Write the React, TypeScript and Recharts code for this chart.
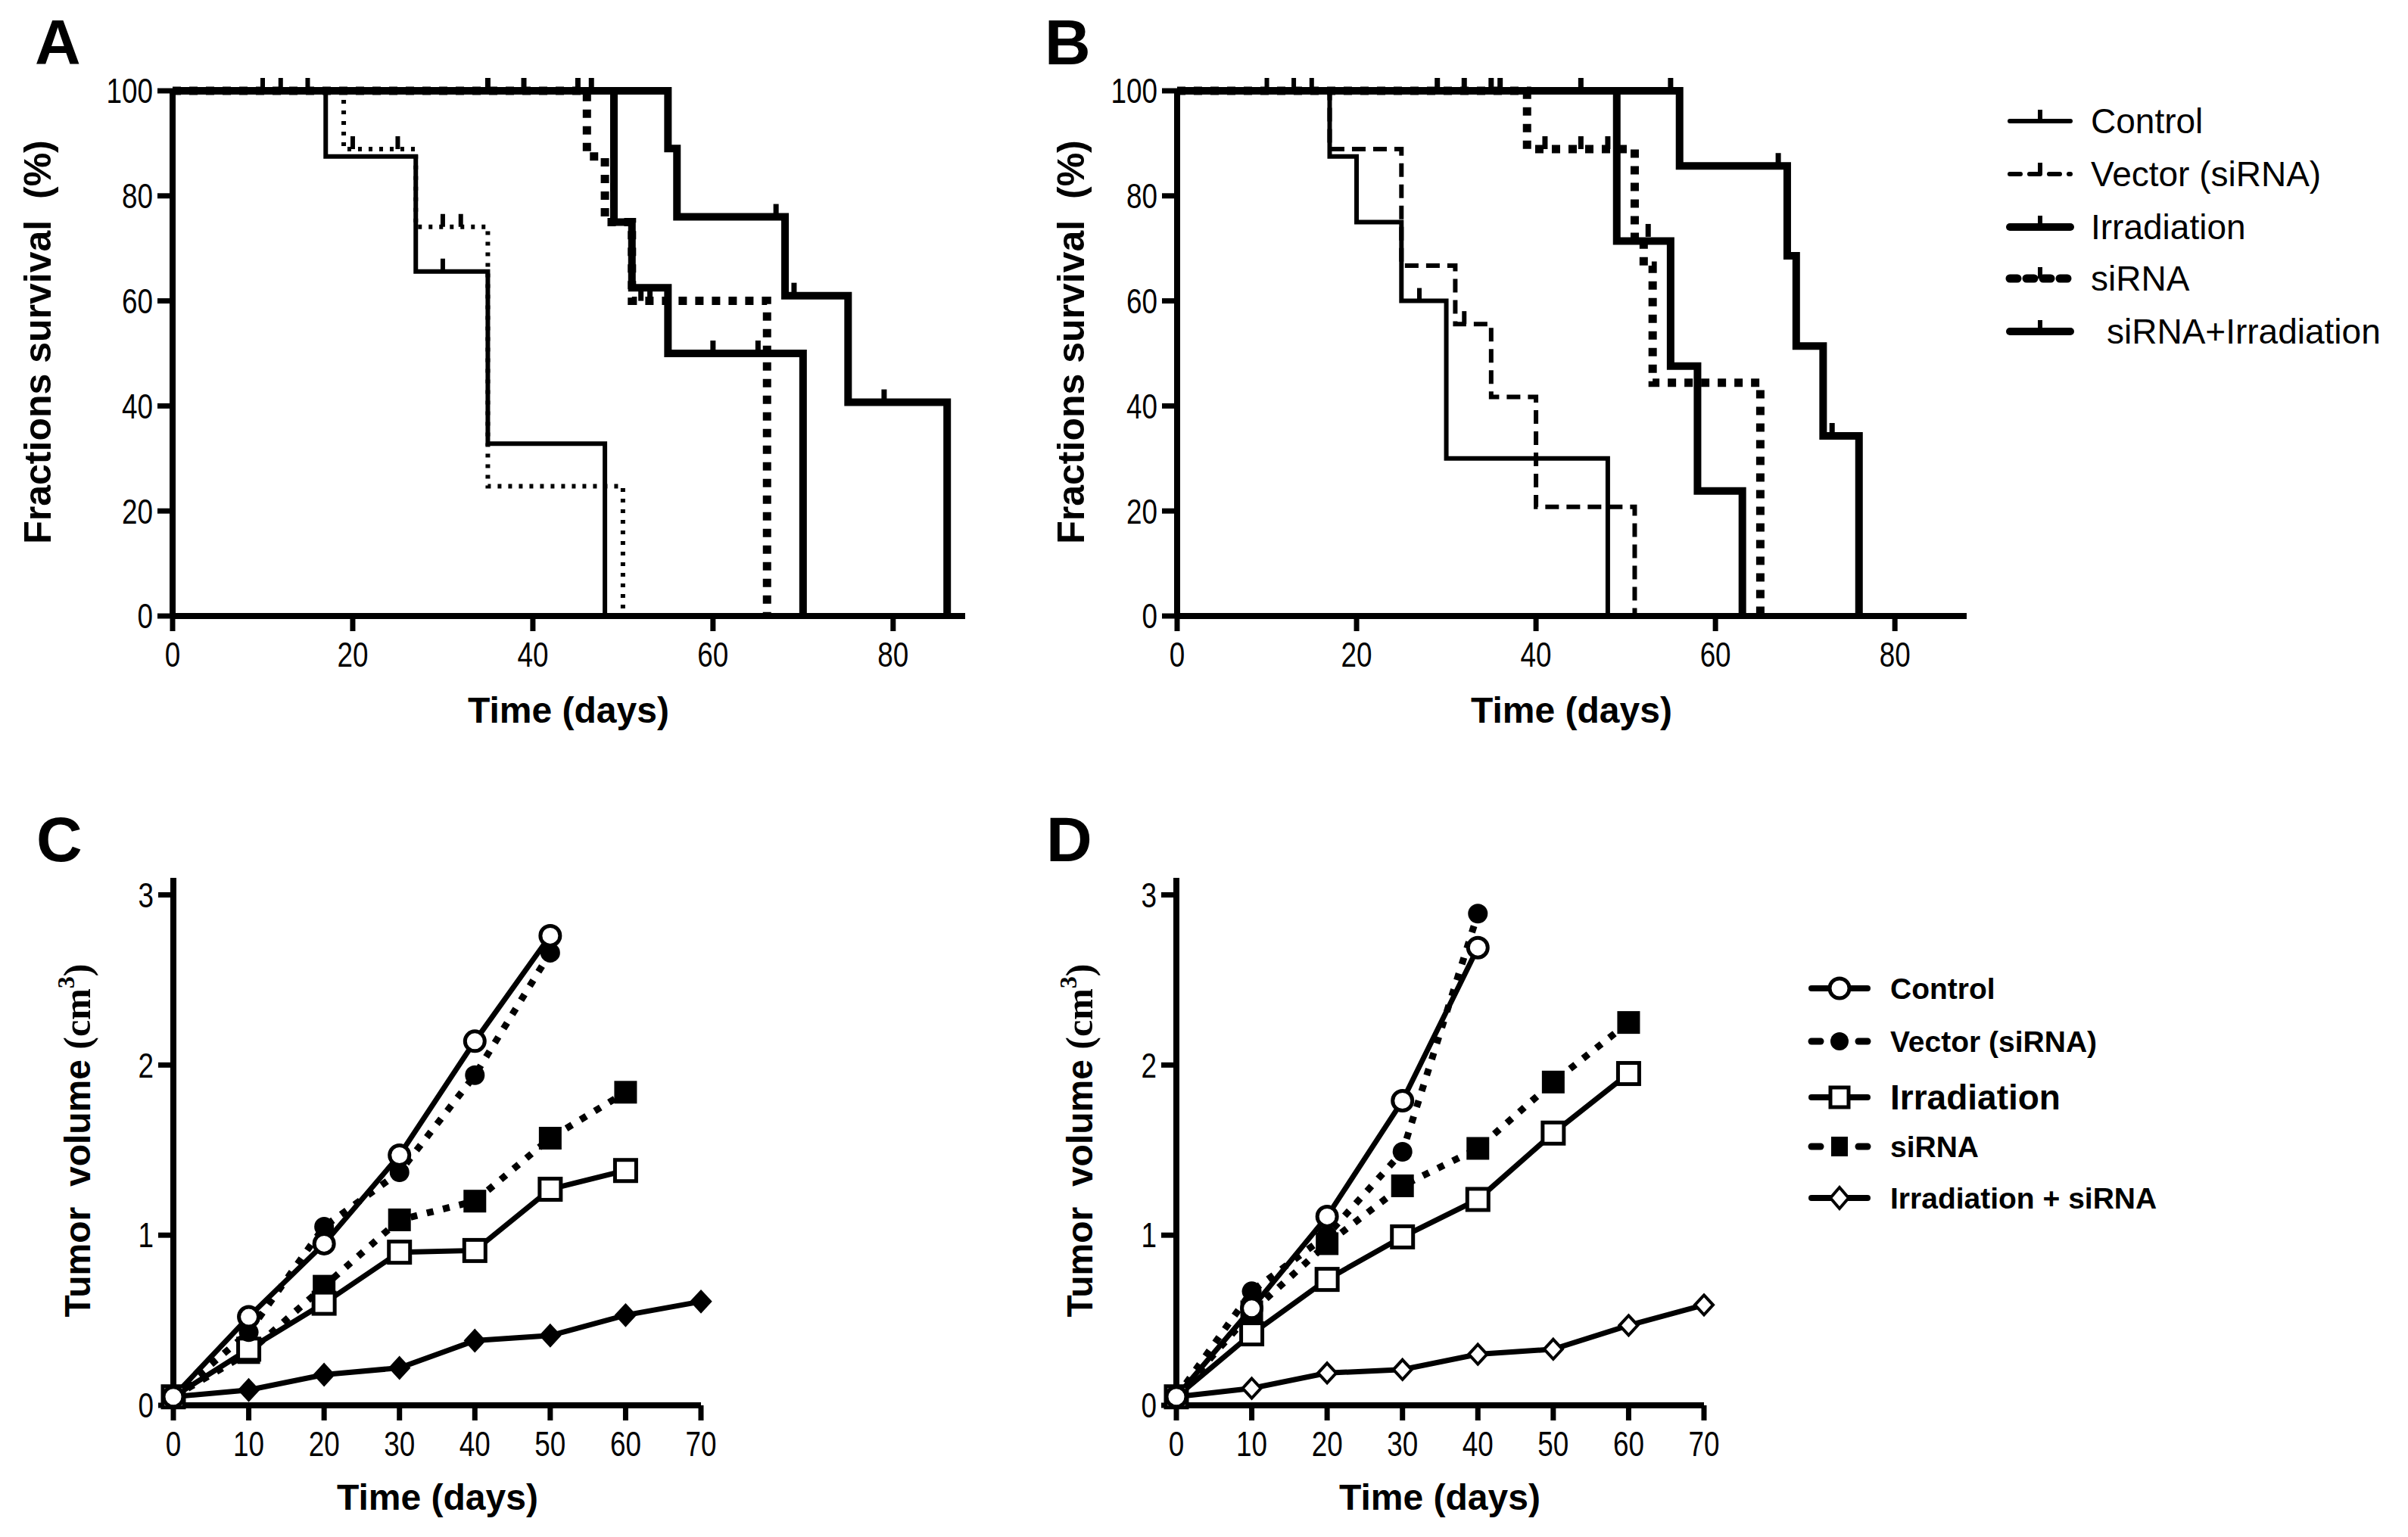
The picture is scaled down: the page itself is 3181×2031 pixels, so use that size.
import React from "react";
import { ComposedChart, LineChart, Line, Scatter, XAxis, YAxis } from "recharts";

type Pair = [number, number];

const SANS = "'Liberation Sans', Arial, sans-serif";
const SERIF = "'Liberation Serif', 'Times New Roman', serif";

// ---- survival (A, B) ----
const survivalXTicks = [0, 20, 40, 60, 80];
const survivalYTicks = [0, 20, 40, 60, 80, 100];
const survivalNames = ["Control", "Vector (siRNA)", "Irradiation", "siRNA", "siRNA+Irradiation"];

// step points [day, % surviving]
const aControl: Pair[] = [[0, 100], [17, 87.5], [27, 65.6], [35, 32.8], [48, 0]];
const aVector: Pair[] = [[0, 100], [19, 88.9], [27, 74.1], [35, 24.7], [50, 0]];
const aIrradiation: Pair[] = [[0, 100], [49, 75], [51, 62.5], [55, 50], [70, 0]];
const aSirna: Pair[] = [[0, 100], [46, 87.5], [48, 75], [51, 60], [66, 0]];
const aCombo: Pair[] = [[0, 100], [55, 89], [56, 76], [68, 61], [75, 40.7], [86, 0]];

// censored observations
const aControlCens: Pair[] = [[10, 100], [12, 100], [15, 100], [30, 65.6]];
const aVectorCens: Pair[] = [[20, 88.9], [25, 88.9], [30, 74.1], [32, 74.1]];
const aIrradiationCens: Pair[] = [[35, 100], [39, 100], [60, 50], [65, 50]];
const aSirnaCens: Pair[] = [[45, 100], [46.5, 100], [52, 60], [53, 60]];
const aComboCens: Pair[] = [[67, 76], [69, 61], [79, 40.7]];

const bControl: Pair[] = [[0, 100], [17, 87.5], [20, 75], [25, 60], [30, 30], [48, 0]];
const bVector: Pair[] = [[0, 100], [17, 88.9], [25, 66.7], [31, 55.6], [35, 41.7], [40, 20.8], [51, 0]];
const bIrradiation: Pair[] = [[0, 100], [49, 71.4], [55, 47.6], [58, 23.8], [63, 0]];
const bSirna: Pair[] = [[0, 100], [39, 88.9], [51, 72.2], [52, 66.7], [53, 44.4], [65, 0]];
const bCombo: Pair[] = [[0, 100], [56, 85.7], [68, 68.6], [69, 51.4], [72, 34.3], [76, 0]];

const bControlCens: Pair[] = [[10, 100], [13, 100], [15, 100], [27, 60]];
const bVectorCens: Pair[] = [[32, 55.6]];
const bIrradiationCens: Pair[] = [[29, 100], [32, 100], [35, 100], [36, 100], [45, 100]];
const bSirnaCens: Pair[] = [[41, 88.9], [45, 88.9], [48, 88.9], [52.5, 72.2]];
const bComboCens: Pair[] = [[55, 100], [67, 85.7], [73, 34.3]];

// ---- tumour volume (C, D) ----
const volumeDays = [0, 10, 20, 30, 40, 50, 60, 70];
const volumeYTicks = [0, 1, 2, 3];
const volumeNames = ["Control", "Vector (siRNA)", "Irradiation", "siRNA", "Irradiation + siRNA"];

const cControl = [0.05, 0.52, 0.95, 1.47, 2.14, 2.76];
const cVector = [0.05, 0.43, 1.05, 1.37, 1.94, 2.66];
const cIrradiation = [0.05, 0.33, 0.6, 0.9, 0.91, 1.27, 1.38];
const cSirna = [0.05, 0.31, 0.7, 1.09, 1.2, 1.57, 1.84];
const cCombo = [0.05, 0.09, 0.18, 0.22, 0.38, 0.41, 0.53, 0.61];

const dControl = [0.05, 0.57, 1.11, 1.79, 2.69];
const dVector = [0.05, 0.67, 1.0, 1.49, 2.89];
const dIrradiation = [0.05, 0.42, 0.74, 0.99, 1.21, 1.6, 1.95];
const dSirna = [0.05, 0.55, 0.95, 1.29, 1.51, 1.9, 2.25];
const dCombo = [0.05, 0.1, 0.19, 0.21, 0.3, 0.33, 0.47, 0.59];

const toPts = (arr: Pair[]) => arr.map(([t, s]) => ({ t, s }));

const buildRows = (vals: number[][]) =>
  volumeDays.map((day, i) => ({
    day,
    control: vals[0][i] ?? null,
    vector: vals[1][i] ?? null,
    irradiation: vals[2][i] ?? null,
    sirna: vals[3][i] ?? null,
    combo: vals[4][i] ?? null,
  }));

const axisLine = { stroke: "#000", strokeWidth: 8 };
const tickLine = { stroke: "#000", strokeWidth: 7 };

// condensed tick labels (no narrow font installed, so squeeze the glyphs)
function NarrowTick(props: any) {
  const { x, y, payload, textAnchor, side } = props;
  const s = String(payload.value);
  return (
    <text
      x={x}
      y={y}
      dy={side === "left" ? "0.355em" : "0.71em"}
      textAnchor={textAnchor}
      fontFamily={SANS}
      fontSize={46}
      fill="#000"
      textLength={s.length * 20.5}
      lengthAdjust="spacingAndGlyphs"
    >
      {s}
    </text>
  );
}

function censorShape(w: number) {
  return (p: any) => (
    <line x1={p.cx} x2={p.cx} y1={p.cy - 17} y2={p.cy} stroke="#000" strokeWidth={w} />
  );
}

interface SurvivalProps {
  left: number;
  plotLeft: number;
  plotRight: number;
  steps: Pair[][];
  censored: Pair[][];
  vectorDash: string;
}

function SurvivalChart({ left, plotLeft, plotRight, steps, censored, vectorDash }: SurvivalProps) {
  const W = 1320;
  const widths = [6, 6, 10, 11, 10];
  const dashes = [undefined, vectorDash, undefined, "11 11", undefined];
  return (
    <div style={{ position: "absolute", left, top: 0 }}>
      <ComposedChart
        width={W}
        height={1000}
        margin={{ top: 120, right: left + W - plotRight, bottom: 86, left: plotLeft - left - 100 }}
      >
        <XAxis
          type="number"
          dataKey="t"
          domain={[0, 88]}
          ticks={survivalXTicks}
          interval={0}
          height={100}
          tickSize={20}
          tickMargin={14}
          axisLine={axisLine}
          tickLine={tickLine}
          tick={<NarrowTick side="bottom" />}
        />
        <YAxis
          type="number"
          dataKey="s"
          domain={[0, 100]}
          ticks={survivalYTicks}
          interval={0}
          width={100}
          tickSize={20}
          tickMargin={6}
          axisLine={axisLine}
          tickLine={tickLine}
          tick={<NarrowTick side="left" />}
        />
        {steps.map((d, i) => (
          <Line
            key={survivalNames[i]}
            name={survivalNames[i]}
            data={toPts(d)}
            dataKey="s"
            type="stepAfter"
            stroke="#000"
            strokeWidth={widths[i]}
            strokeDasharray={dashes[i]}
            dot={false}
            activeDot={false}
            isAnimationActive={false}
          />
        ))}
        {censored.map((d, i) => (
          <Scatter
            key={"c" + i}
            data={toPts(d)}
            dataKey="s"
            shape={censorShape(i < 2 ? 6 : 7)}
            isAnimationActive={false}
          />
        ))}
      </ComposedChart>
    </div>
  );
}

const openCircle = (p: any) =>
  p.cy == null ? <g key={"oc" + p.index} /> : (
    <circle key={"oc" + p.index} cx={p.cx} cy={p.cy} r={13} fill="#fff" stroke="#000" strokeWidth={5} />
  );
const filledCircle = (p: any) =>
  p.cy == null ? <g key={"fc" + p.index} /> : (
    <circle key={"fc" + p.index} cx={p.cx} cy={p.cy} r={13} fill="#000" />
  );
const openSquare = (p: any) =>
  p.cy == null ? <g key={"os" + p.index} /> : (
    <rect key={"os" + p.index} x={p.cx - 14} y={p.cy - 14} width={28} height={28} fill="#fff" stroke="#000" strokeWidth={5} />
  );
const filledSquare = (p: any) =>
  p.cy == null ? <g key={"fs" + p.index} /> : (
    <rect key={"fs" + p.index} x={p.cx - 15} y={p.cy - 15} width={30} height={30} fill="#000" />
  );
const diamond = (filled: boolean) => (p: any) =>
  p.cy == null ? <g key={"dm" + p.index} /> : (
    <path
      key={"dm" + p.index}
      d={`M${p.cx},${p.cy - 13}L${p.cx + 12},${p.cy}L${p.cx},${p.cy + 13}L${p.cx - 12},${p.cy}Z`}
      fill={filled ? "#000" : "#fff"}
      stroke="#000"
      strokeWidth={4}
    />
  );

interface VolumeProps {
  left: number;
  plotLeft: number;
  plotRight: number;
  vals: number[][];
  filledDiamond: boolean;
}

function VolumeChart({ left, plotLeft, plotRight, vals, filledDiamond }: VolumeProps) {
  const W = 1000;
  const rows = buildRows(vals);
  return (
    <div style={{ position: "absolute", left, top: 1060 }}>
      <LineChart
        width={W}
        height={900}
        data={rows}
        margin={{ top: 100, right: left + W - plotRight, bottom: 23, left: plotLeft - left - 100 }}
      >
        <XAxis
          type="number"
          dataKey="day"
          domain={[0, 70]}
          ticks={volumeDays}
          interval={0}
          height={80}
          tickSize={20}
          tickMargin={14}
          axisLine={axisLine}
          tickLine={tickLine}
          tick={<NarrowTick side="bottom" />}
        />
        <YAxis
          type="number"
          domain={[0, 3.1]}
          ticks={volumeYTicks}
          interval={0}
          width={100}
          tickSize={20}
          tickMargin={6}
          axisLine={axisLine}
          tickLine={tickLine}
          tick={<NarrowTick side="left" />}
        />
        <Line dataKey="combo" name={volumeNames[4]} stroke="#000" strokeWidth={7} dot={diamond(filledDiamond)} activeDot={false} isAnimationActive={false} />
        <Line dataKey="sirna" name={volumeNames[3]} stroke="#000" strokeWidth={9} strokeDasharray="9 13" dot={filledSquare} activeDot={false} isAnimationActive={false} />
        <Line dataKey="irradiation" name={volumeNames[2]} stroke="#000" strokeWidth={7} dot={openSquare} activeDot={false} isAnimationActive={false} />
        <Line dataKey="vector" name={volumeNames[1]} stroke="#000" strokeWidth={9} strokeDasharray="9 13" dot={filledCircle} activeDot={false} isAnimationActive={false} />
        <Line dataKey="control" name={volumeNames[0]} stroke="#000" strokeWidth={7} dot={openCircle} activeDot={false} isAnimationActive={false} />
      </LineChart>
    </div>
  );
}

function TopLegend() {
  const ys = [160, 230, 300, 368, 438];
  const widths = [6, 6, 10, 11, 10];
  const dashes = [undefined, "14 12", undefined, "10 12", undefined];
  return (
    <g>
      {survivalNames.map((n, i) => (
        <g key={n}>
          <line x1={2655} x2={2735} y1={ys[i]} y2={ys[i]} stroke="#000" strokeWidth={widths[i]} strokeDasharray={dashes[i]} strokeLinecap="round" />
          <line x1={2695} x2={2695} y1={ys[i] - 15} y2={ys[i]} stroke="#000" strokeWidth={6} />
          <text x={i === 4 ? 2783 : 2762} y={ys[i] + 16} fontFamily={SANS} fontSize={46}>{n}</text>
        </g>
      ))}
    </g>
  );
}

function BottomLegend() {
  const ys = [1306, 1376, 1450, 1515, 1583];
  const cx = 2430;
  const dashed = [false, true, false, true, false];
  return (
    <g>
      {volumeNames.map((n, i) => {
        const y = ys[i];
        const big = i === 2;
        return (
          <g key={n}>
            {dashed[i] ? (
              <>
                <line x1={2393} x2={2405} y1={y} y2={y} stroke="#000" strokeWidth={9} strokeLinecap="round" />
                <line x1={2455} x2={2467} y1={y} y2={y} stroke="#000" strokeWidth={9} strokeLinecap="round" />
              </>
            ) : (
              <line x1={2393} x2={2467} y1={y} y2={y} stroke="#000" strokeWidth={8} strokeLinecap="round" />
            )}
            {i === 0 && <circle cx={cx} cy={y} r={13} fill="#fff" stroke="#000" strokeWidth={5} />}
            {i === 1 && <circle cx={cx} cy={y} r={12} fill="#000" />}
            {i === 2 && <rect x={cx - 12} y={y - 13} width={24} height={26} fill="#fff" stroke="#000" strokeWidth={5} />}
            {i === 3 && <rect x={cx - 11} y={y - 13} width={22} height={26} fill="#000" />}
            {i === 4 && (
              <path d={`M${cx},${y - 14}L${cx + 12},${y}L${cx},${y + 14}L${cx - 12},${y}Z`} fill="#fff" stroke="#000" strokeWidth={4} />
            )}
            <text x={2497} y={y + (big ? 16 : 14)} fontFamily={SANS} fontWeight="bold" fontSize={big ? 46 : 39}>
              {n}
            </text>
          </g>
        );
      })}
    </g>
  );
}

function Labels() {
  const bold = { fontFamily: SANS, fontWeight: "bold" as const };
  const yTitle = (x: number, y: number) => (
    <text x={x} y={y} transform={`rotate(-90 ${x} ${y})`} textAnchor="middle" fontSize={50} xmlSpace="preserve" style={{ whiteSpace: "pre" }} {...bold}>
      Fractions survival  (%)
    </text>
  );
  const volTitle = (x: number, y: number) => (
    <text x={x} y={y} transform={`rotate(-90 ${x} ${y})`} textAnchor="middle" fontSize={48} xmlSpace="preserve" style={{ whiteSpace: "pre" }} {...bold}>
      Tumor  volume{" "}
      <tspan fontFamily={SERIF} fontSize={50}>(cm</tspan>
      <tspan fontFamily={SERIF} fontSize={32} dy={-21}>3</tspan>
      <tspan fontFamily={SERIF} fontSize={50} dy={21}>)</tspan>
    </text>
  );
  return (
    <g>
      <text x={46} y={85} fontSize={84} {...bold}>A</text>
      <text x={1380} y={85} fontSize={84} {...bold}>B</text>
      <text x={48} y={1138} fontSize={84} {...bold}>C</text>
      <text x={1382} y={1138} fontSize={84} {...bold}>D</text>
      {yTitle(67, 452)}
      {yTitle(1432, 452)}
      {volTitle(119, 1507)}
      {volTitle(1443, 1507)}
      <text x={751} y={955} textAnchor="middle" fontSize={48} {...bold}>Time (days)</text>
      <text x={2076} y={955} textAnchor="middle" fontSize={48} {...bold}>Time (days)</text>
      <text x={578} y={1995} textAnchor="middle" fontSize={48} {...bold}>Time (days)</text>
      <text x={1902} y={1995} textAnchor="middle" fontSize={48} {...bold}>Time (days)</text>
    </g>
  );
}

export default function App() {
  return (
    <div style={{ position: "absolute", left: 0, top: 0, width: 3181, height: 2031, background: "#fff", overflow: "hidden" }}>
      <SurvivalChart
        left={0}
        plotLeft={228}
        plotRight={1275}
        steps={[aControl, aVector, aIrradiation, aSirna, aCombo]}
        censored={[aControlCens, aVectorCens, aIrradiationCens, aSirnaCens, aComboCens]}
        vectorDash="5 9"
      />
      <SurvivalChart
        left={1330}
        plotLeft={1555}
        plotRight={2598}
        steps={[bControl, bVector, bIrradiation, bSirna, bCombo]}
        censored={[bControlCens, bVectorCens, bIrradiationCens, bSirnaCens, bComboCens]}
        vectorDash="18 10"
      />
      <VolumeChart left={0} plotLeft={229} plotRight={926} vals={[cControl, cVector, cIrradiation, cSirna, cCombo]} filledDiamond />
      <VolumeChart left={1330} plotLeft={1554} plotRight={2251} vals={[dControl, dVector, dIrradiation, dSirna, dCombo]} filledDiamond={false} />
      <svg width={3181} height={2031} style={{ position: "absolute", left: 0, top: 0, pointerEvents: "none" }}>
        <Labels />
        <TopLegend />
        <BottomLegend />
      </svg>
    </div>
  );
}
